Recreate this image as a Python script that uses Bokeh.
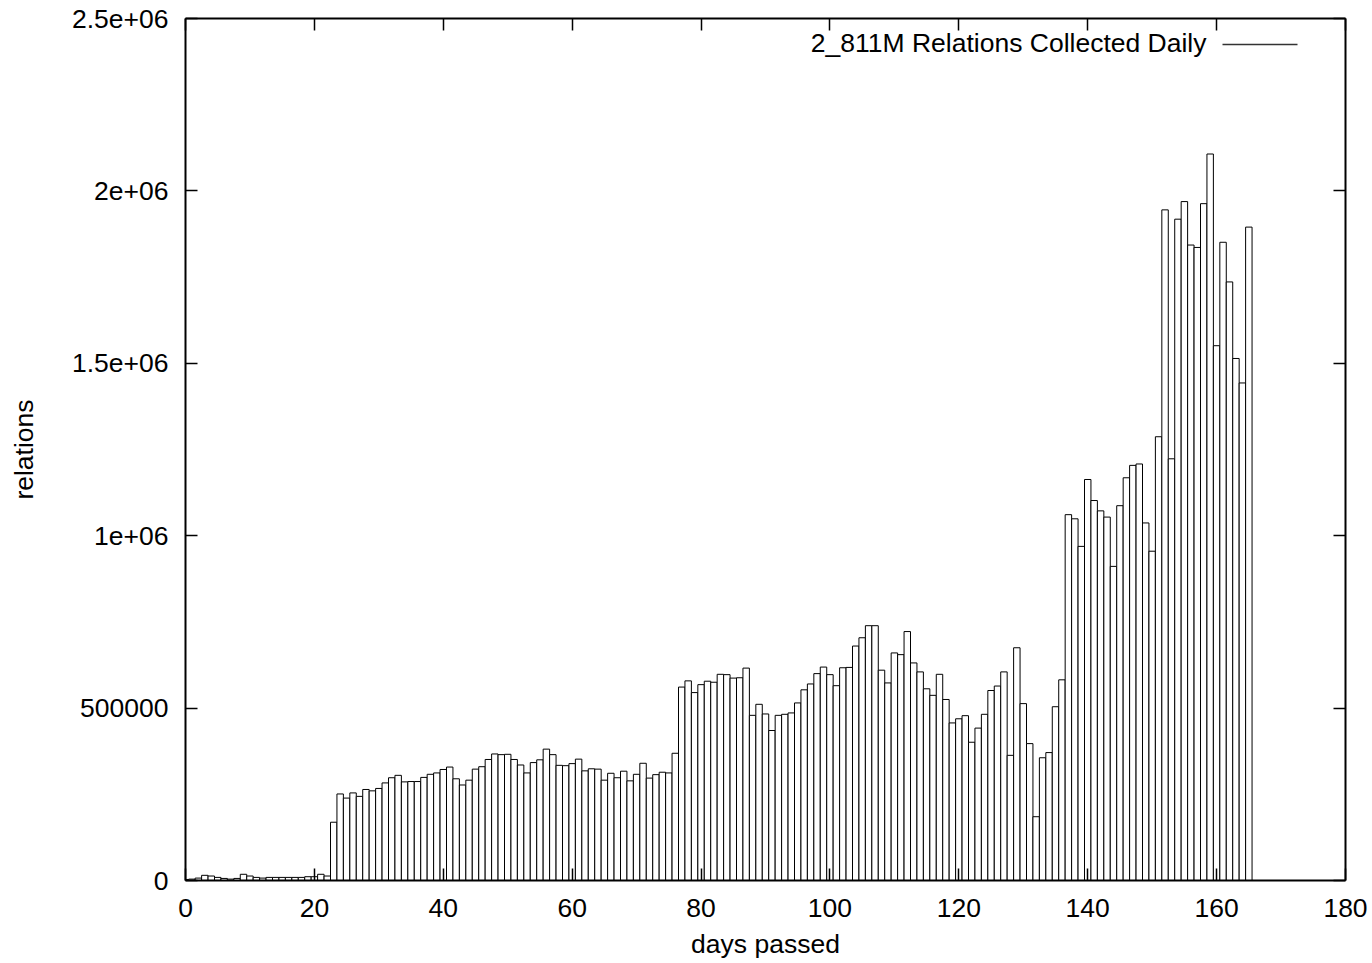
import math
from bokeh.plotting import figure
from bokeh.models import Range1d, LinearAxis, FixedTicker, Label, Arrow, ColumnDataSource
from bokeh.embed import file_html
from bokeh.resources import INLINE

# ---- data ----
days = list(range(0, 166))
relations = [
    3000, 4000, 7000, 15000, 13000, 9000, 6000, 4000, 6000, 18000,
    13000, 9000, 7000, 9000, 9000, 9000, 9000, 9000, 9000, 11000,
    11000, 18000, 13000, 169000, 251000, 239000, 254000, 244000, 264000, 260000,
    267000, 283000, 298000, 305000, 286000, 287000, 287000, 299000, 308000, 312000,
    322000, 329000, 295000, 277000, 291000, 323000, 330000, 351000, 367000, 365000,
    366000, 351000, 335000, 312000, 342000, 350000, 381000, 365000, 334000, 333000,
    339000, 352000, 318000, 324000, 323000, 291000, 311000, 298000, 317000, 289000,
    308000, 340000, 297000, 307000, 314000, 312000, 369000, 561000, 579000, 545000,
    568000, 578000, 575000, 598000, 597000, 587000, 588000, 616000, 479000, 511000,
    483000, 435000, 479000, 482000, 486000, 515000, 553000, 570000, 600000, 619000,
    597000, 565000, 617000, 618000, 680000, 704000, 739000, 739000, 610000, 573000,
    660000, 655000, 722000, 631000, 605000, 556000, 537000, 598000, 525000, 457000,
    469000, 478000, 401000, 442000, 482000, 551000, 564000, 605000, 363000, 675000,
    513000, 397000, 185000, 356000, 371000, 504000, 582000, 1061000, 1049000, 969000,
    1163000, 1102000, 1072000, 1054000, 911000, 1087000, 1168000, 1204000, 1208000, 1037000,
    955000, 1287000, 1945000, 1223000, 1918000, 1969000, 1843000, 1836000, 1963000, 2107000,
    1551000, 1851000, 1736000, 1514000, 1443000, 1895000,
]
x_ticks = [0, 20, 40, 60, 80, 100, 120, 140, 160, 180]
y_ticks = [0, 500000, 1000000, 1500000, 2000000, 2500000]
y_tick_labels = ["0", "500000", "1e+06", "1.5e+06", "2e+06", "2.5e+06"]
series_name = "2_811M Relations Collected Daily"
x_title = "days passed"
y_title = "relations"

FONT = "Liberation Sans"
FS = "26.5px"

p = figure(width=1372, height=963, output_backend="svg", toolbar_location=None,
           x_range=Range1d(0, 180), y_range=Range1d(0, 2500000),
           min_border_left=185, min_border_right=27, min_border_top=18, min_border_bottom=83)
p.grid.visible = False
p.outline_line_color = None
p.background_fill_color = "white"
p.border_fill_color = "white"

src = ColumnDataSource(dict(x=days, top=relations))
p.vbar(x="x", top="top", width=1.0, bottom=0, source=src,
       fill_color="white", line_color="black", line_width=1)

top_axis = LinearAxis()
right_axis = LinearAxis()
p.add_layout(top_axis, "above")
p.add_layout(right_axis, "right")

def style(ax, ticks, show):
    ax.ticker = FixedTicker(ticks=ticks)
    ax.major_tick_in = 12
    ax.major_tick_out = 0
    ax.minor_tick_line_color = None
    ax.axis_line_color = "black"
    ax.axis_line_width = 2
    ax.major_tick_line_color = "black"
    ax.major_tick_line_width = 1.5
    ax.major_label_text_font = FONT
    ax.major_label_text_color = "black"
    ax.axis_label_text_font = FONT
    ax.axis_label_text_font_size = FS
    ax.axis_label_text_font_style = "normal"
    ax.axis_label_text_color = "black"
    if show:
        ax.major_label_text_font_size = FS
    else:
        ax.major_label_overrides = {t: "" for t in ticks}
        ax.major_label_text_font_size = "1px"
        ax.major_label_standoff = 0

for ax in p.below:
    style(ax, x_ticks, True)
    ax.major_label_standoff = 18
    ax.axis_label = x_title
    ax.axis_label_standoff = 9
for ax in p.left:
    style(ax, y_ticks, True)
    ax.major_label_standoff = 17
    ax.major_label_overrides = {v: t for v, t in zip(y_ticks, y_tick_labels)}
    ax.axis_label = y_title
    ax.axis_label_standoff = 30
style(top_axis, x_ticks, False)
style(right_axis, y_ticks, False)

p.add_layout(Label(text=series_name, x=1021, y=838, x_units="screen", y_units="screen",
                   text_align="right", text_baseline="alphabetic",
                   text_font=FONT, text_font_size=FS, text_color="black"))
p.add_layout(Arrow(start=None, end=None, x_start=1037, y_start=836, x_end=1112, y_end=836,
                   start_units="screen", end_units="screen",
                   line_color="#333333", line_width=1.5))

open("out.html", "w").write(file_html(p, INLINE))
